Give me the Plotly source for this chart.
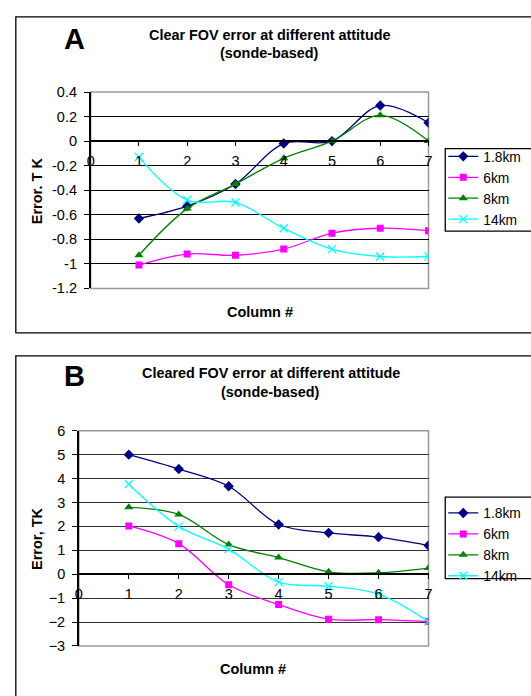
import plotly.graph_objects as go

W, H = 531, 696

columns = [1, 2, 3, 4, 5, 6, 7]
series_names = ["1.8km", "6km", "8km", "14km"]

# Panel A: Clear FOV error (K)
a_18km = [-0.63, -0.53, -0.35, -0.02, 0.0, 0.29, 0.15]
a_6km = [-1.01, -0.92, -0.93, -0.88, -0.75, -0.71, -0.73]
a_8km = [-0.93, -0.55, -0.35, -0.14, 0.0, 0.21, 0.0]
a_14km = [-0.13, -0.48, -0.50, -0.71, -0.88, -0.94, -0.94]

# Panel B: Cleared FOV error (K)
b_18km = [5.0, 4.4, 3.68, 2.08, 1.73, 1.55, 1.2]
b_6km = [2.02, 1.28, -0.44, -1.27, -1.88, -1.9, -1.98]
b_8km = [2.8, 2.5, 1.24, 0.7, 0.1, 0.06, 0.26]
b_14km = [3.76, 2.0, 1.05, -0.33, -0.5, -0.83, -1.98]

a_ticks = [0.4, 0.2, 0, -0.2, -0.4, -0.6, -0.8, -1, -1.2]
b_ticks = [6, 5, 4, 3, 2, 1, 0, -1, -2, -3]

colors = ["#000080", "#FF00FF", "#008000", "#00FFFF"]
symbols = ["diamond", "square", "triangle-up", "x-thin"]
msizes = [8, 7, 8, 8]

FONT = "Arial, Liberation Sans, sans-serif"


def px_x(p):
    return p / W


def px_y(p):
    return 1 - p / H


fig = go.Figure()

for data, axes, leg in [
    ([a_18km, a_6km, a_8km, a_14km], ("x", "y"), "legend"),
    ([b_18km, b_6km, b_8km, b_14km], ("x2", "y2"), "legend2"),
]:
    for name, vals, c, s, ms in zip(series_names, data, colors, symbols, msizes):
        marker = dict(symbol=s, size=ms, color=c, line=dict(color=c, width=1.3 if s == "x-thin" else 0))
        fig.add_trace(go.Scatter(
            x=columns, y=vals, name=name, mode="lines+markers",
            line=dict(color=c, width=1.3, shape="spline", smoothing=1.0),
            marker=marker, xaxis=axes[0], yaxis=axes[1], legend=leg,
        ))

# domains
ax_dom = [px_x(88), px_x(431)]
ay_dom = [px_y(287), px_y(86)]
bx_dom = [px_x(76), px_x(431)]
by_dom = [px_y(653), px_y(432.7)]

a_pos = ay_dom[0] + (0 - (-1.2)) / 1.6 * (ay_dom[1] - ay_dom[0])
b_pos = by_dom[0] + (0 - (-3)) / 9 * (by_dom[1] - by_dom[0])

tickfont = dict(family=FONT, size=14.5, color="black")

xcommon = dict(range=[0, 7], dtick=1, tick0=0, showgrid=False, zeroline=False,
               showline=True, linecolor="black", linewidth=1.5,
               ticks="outside", ticklen=4, tickcolor="black", tickfont=tickfont,
               ticklabelstandoff=3, fixedrange=True)
ycommon = dict(showgrid=True, gridcolor="black", gridwidth=1.2, zeroline=False,
               showline=True, linecolor="black", linewidth=1.5,
               ticks="outside", ticklen=5, tickcolor="black", tickfont=tickfont,
               ticklabelstandoff=4, fixedrange=True)

legfont = dict(family=FONT, size=13.8, color="black")

fig.update_layout(
    width=W, height=H,
    margin=dict(l=0, r=0, t=0, b=0),
    paper_bgcolor="white", plot_bgcolor="white",
    font=dict(family=FONT, size=14, color="black"),
    xaxis=dict(domain=ax_dom, anchor="free", position=a_pos, **xcommon),
    yaxis=dict(domain=ay_dom, anchor="x", range=[-1.2, 0.4], tickvals=a_ticks,
               ticktext=[f"{v:g}" for v in a_ticks], **ycommon),
    xaxis2=dict(domain=bx_dom, anchor="free", position=b_pos, **xcommon),
    yaxis2=dict(domain=by_dom, anchor="x2", range=[-3, 6], tickvals=b_ticks,
                **{**ycommon, "gridcolor": "#333"}),
    legend=dict(x=px_x(446), y=px_y(136), xanchor="left", yanchor="top",
                bgcolor="rgba(0,0,0,0)", borderwidth=0,
                font=legfont, itemwidth=30, tracegroupgap=0),
    legend2=dict(x=px_x(446), y=px_y(501), xanchor="left", yanchor="top",
                 bgcolor="rgba(0,0,0,0)", borderwidth=0,
                 font=legfont, itemwidth=30, tracegroupgap=0),
    showlegend=True,
)

shapes = []
# panel borders
shapes.append(dict(type="rect", xref="paper", yref="paper", x0=px_x(12), x1=px_x(540),
                   y0=px_y(332.5), y1=px_y(9), line=dict(color="black", width=1.3)))
shapes.append(dict(type="rect", xref="paper", yref="paper", x0=px_x(12), x1=px_x(540),
                   y0=px_y(705), y1=px_y(356), line=dict(color="black", width=1.3)))
# legend boxes
shapes.append(dict(type="rect", xref="paper", yref="paper", x0=px_x(448), x1=px_x(540),
                   y0=px_y(228.3), y1=px_y(144), line=dict(color="black", width=1.3),
                   fillcolor="white", layer="below"))
shapes.append(dict(type="rect", xref="paper", yref="paper", x0=px_x(448), x1=px_x(540),
                   y0=px_y(584), y1=px_y(500.7), line=dict(color="black", width=1.3),
                   fillcolor="white", layer="below"))
# plot-area borders (gray)
for xr, yr in [("x domain", "y domain"), ("x2 domain", "y2 domain")]:
    shapes.append(dict(type="rect", xref=xr, yref=yr, x0=0, x1=1, y0=0, y1=1,
                       line=dict(color="#999999", width=1.5), layer="below"))
fig.update_layout(shapes=shapes)

annotations = []
bold = dict(family=FONT, size=14.5, color="black")
title_font = dict(family=FONT, size=14.4, color="black")


def ann(text, x, y, font, angle=0):
    return dict(text=text, x=px_x(x), y=px_y(y), xref="paper", yref="paper",
                xanchor="center", yanchor="middle", showarrow=False,
                textangle=angle, font=font)


# Panel letters
annotations.append(ann("<b>A</b>", 71.5, 32, dict(family=FONT, size=29, color="black")))
annotations.append(ann("<b>B</b>", 71.5, 377, dict(family=FONT, size=29, color="black")))
# Titles
annotations.append(ann("<b>Clear FOV error at different attitude</b>", 270, 28, title_font))
annotations.append(ann("<b>(sonde-based)</b>", 270, 46, title_font))
annotations.append(ann("<b>Cleared FOV error at different attitude</b>", 271, 374, title_font))
annotations.append(ann("<b>(sonde-based)</b>", 271, 393, title_font))
# Axis titles
annotations.append(ann("<b>Column #</b>", 260, 311, bold))
annotations.append(ann("<b>Column #</b>", 253, 677, bold))
annotations.append(ann("<b>Error. T K</b>", 33, 187, bold, -90))
annotations.append(ann("<b>Error, TK</b>", 33, 543, bold, -90))
fig.update_layout(annotations=annotations)

fig.write_html(
    "out.html",
    config={"displayModeBar": False},
    post_script="document.body.style.margin='0';document.body.style.overflow='hidden';",
)
